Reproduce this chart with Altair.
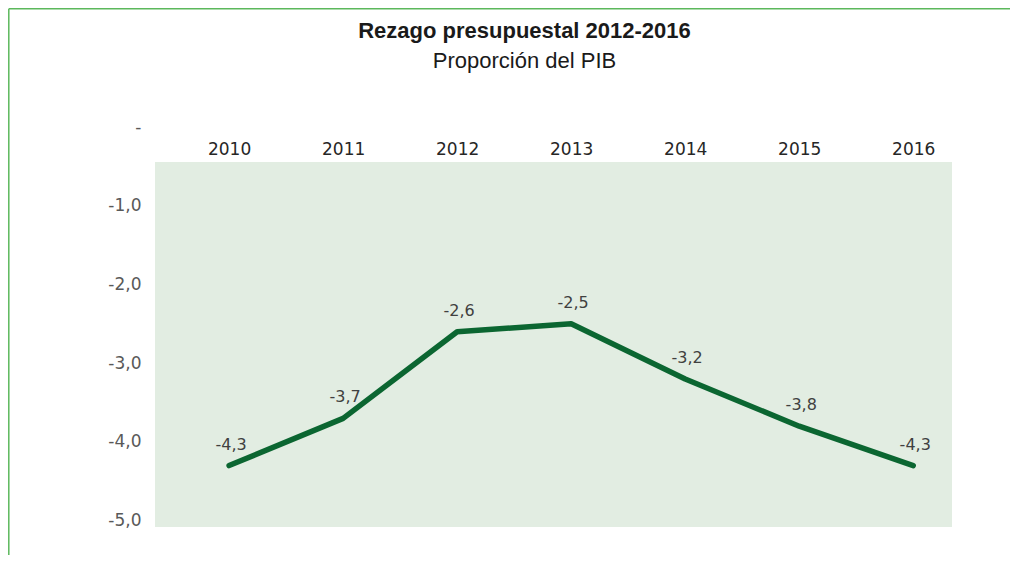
import altair as alt
import pandas as pd

years = [2010, 2011, 2012, 2013, 2014, 2015, 2016]
values = [-4.3, -3.7, -2.6, -2.5, -3.2, -3.8, -4.3]
labels = ["-4,3", "-3,7", "-2,6", "-2,5", "-3,2", "-3,8", "-4,3"]
y_ticks = [0, -1, -2, -3, -4, -5]

df = pd.DataFrame({"year": years, "value": values, "label": labels})

W, H = 797, 400
xscale = alt.Scale(domain=[2009.35, 2016.34], nice=False, zero=False)
yscale = alt.Scale(domain=[-5.08, 0], nice=False, zero=False)

bg = alt.Chart(alt.Data(values=[{}])).mark_rect(color="#e2ede2").encode(
    x=alt.value(0), x2=alt.value(W), y=alt.value(35), y2=alt.value(H)
)

border_left = alt.Chart(alt.Data(values=[{}])).mark_rule(color="#5cb85c", strokeWidth=1.5).encode(
    x=alt.value(-146.2), y=alt.value(-118.2), y2=alt.value(428)
)
border_top = alt.Chart(alt.Data(values=[{}])).mark_rule(color="#5cb85c", strokeWidth=1.5).encode(
    x=alt.value(-146.2), x2=alt.value(860), y=alt.value(-118.2)
)

line = alt.Chart(df).mark_line(color="#0b6631", strokeWidth=5.5, strokeCap="round", strokeJoin="round").encode(
    x=alt.X("year:Q", scale=xscale,
            axis=alt.Axis(orient="top", values=years, format="d", domain=False, ticks=False,
                          grid=False, labelFont="DejaVu Sans", labelFontSize=17,
                          labelColor="#262626", labelPadding=-31, title=None)),
    y=alt.Y("value:Q", scale=yscale,
            axis=alt.Axis(values=y_ticks, domain=False, ticks=False, grid=False,
                          labelExpr="datum.value == 0 ? '-' : '-' + replace(format(-datum.value, '.1f'), '.', ',')",
                          labelFont="DejaVu Sans", labelFontSize=17, labelColor="#595959",
                          labelPadding=14, title=None)),
)

text = alt.Chart(df).mark_text(font="DejaVu Sans", fontSize=16, color="#404040", dy=-21, dx=2).encode(
    x=alt.X("year:Q", scale=xscale),
    y=alt.Y("value:Q", scale=yscale),
    text="label:N",
)

chart = alt.layer(bg, border_left, border_top, line, text).properties(
    width=W, height=H,
    autosize=alt.AutoSizeParams(type="none"),
    padding={"left": 147, "top": 119, "right": 58, "bottom": 28},
    title=alt.TitleParams(
        text="Rezago presupuestal 2012-2016",
        subtitle="Proporción del PIB",
        font="Liberation Sans", fontSize=22, fontWeight="bold", color="#1a1a1a",
        subtitleFont="Liberation Sans", subtitleFontSize=22, subtitleColor="#1a1a1a",
        subtitlePadding=8, anchor="middle", dx=-29, offset=-65,
    ),
).configure_view(stroke=None)

chart.save("out.html", embed_options={"renderer": "svg", "actions": False})
